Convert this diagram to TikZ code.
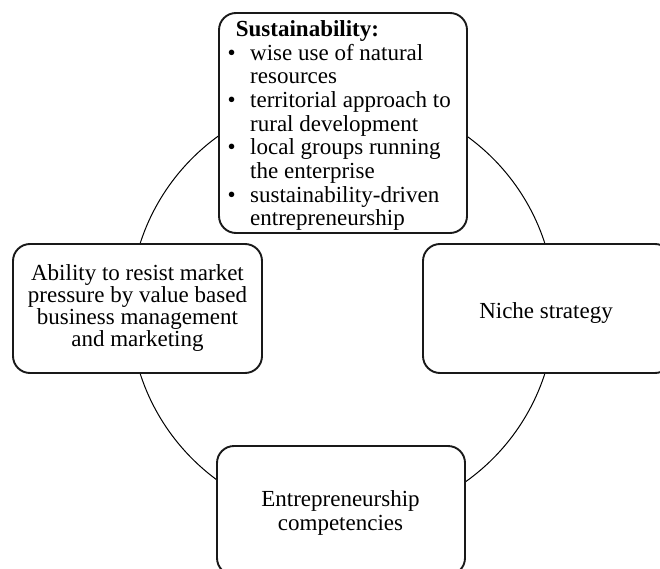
\documentclass[tikz,border=0pt]{standalone}
\usepackage{fontspec}
\setmainfont{Liberation Serif}
\begin{document}
\begin{tikzpicture}[x=1pt,y=-1pt,
  box/.style={draw=black!90, line width=1.9pt, rounded corners=17pt, fill=white,
    inner sep=0pt, align=center, font=\fontsize{23}{22}\selectfont},
  ring/.style={draw=black, line width=1pt, circle, inner sep=0pt, minimum size=425pt},
  ln/.style={anchor=base west, inner sep=0pt, font=\fontsize{23}{23}\selectfont},
  cl/.style={anchor=base, inner sep=0pt, font=\fontsize{23}{23}\selectfont},
  bul/.style={anchor=base, inner sep=0pt, font=\fontsize{23}{23}\selectfont},
  ]
\useasboundingbox (0,0) rectangle (660,569);
\node[ring] (ring) at (342.5,308.5) {};
\node[box, minimum width=248pt, minimum height=220pt] (top) at (343,123) {};
\node[box, minimum width=249pt, minimum height=129pt] (left) at (137.5,308.5)
  {Ability to resist market\\pressure by value based\\business management\\and marketing};
\node[box, minimum width=249pt, minimum height=129pt] (right) at (547.5,308.5) {};
\node[box, minimum width=248pt, minimum height=129pt] (bottom) at (341,510.5) {};
% single-line / two-line labels placed on their baselines
\node[cl] (niche) at (546,318.3) {Niche strategy};
\node[cl] (ent1) at (340.5,506.7) {Entrepreneurship};
\node[cl] (ent2) at (340.5,530) {competencies};
% top box contents
\node[ln, font=\fontsize{23}{23}\selectfont\bfseries] (head) at (235.7,36.7) {Sustainability:};
\node[bul] (b1) at (231.7,60.3) {•};
\node[ln] (l1) at (250,60.3) {wise use of natural};
\node[ln] (l2) at (250,83.9) {resources};
\node[bul] (b2) at (231.7,107.6) {•};
\node[ln] (l3) at (250,107.6) {territorial approach to};
\node[ln] (l4) at (250,131.2) {rural development};
\node[bul] (b3) at (231.7,154.8) {•};
\node[ln] (l5) at (250,154.8) {local groups running};
\node[ln] (l6) at (250,178.4) {the enterprise};
\node[bul] (b4) at (231.7,202.1) {•};
\node[ln] (l7) at (250,202.1) {sustainability-driven};
\node[ln] (l8) at (250,225.7) {entrepreneurship};
\end{tikzpicture}
\end{document}
